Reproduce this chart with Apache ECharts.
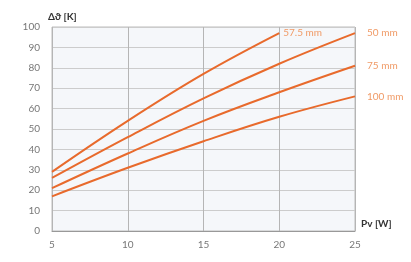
<!DOCTYPE html>
<html><head><meta charset="utf-8">
<script src="https://cdn.jsdelivr.net/npm/echarts@6/dist/echarts.min.js"></script>
<style>html,body{margin:0;padding:0;background:#fff}#c{width:411px;height:262px}</style>
</head><body><div id="c"></div>
<script>
const seriesNames = ["57.5 mm", "50 mm", "75 mm", "100 mm"];
const xValues = [5, 10, 15, 20, 25];
const s575 = [29, 54, 77, 97];
const s50 = [26, 46, 65, 82, 97];
const s75 = [21, 38, 54, 68, 81];
const s100 = [17, 31, 44, 56, 66];
const yTicks = [0, 10, 20, 30, 40, 50, 60, 70, 80, 90, 100];
const xTicks = [5, 10, 15, 20, 25];

const allData = [s575, s50, s75, s100];
const chart = echarts.init(document.getElementById('c'));
const font = 'Lato, "Open Sans", sans-serif';
chart.setOption({
  animation: false,
  backgroundColor: '#fff',
  grid: { left: 52, right: 56, top: 27, bottom: 31, show: true, backgroundColor: '#f5f7fa', borderColor: '#bdbdbd', borderWidth: 1 },
  xAxis: {
    type: 'value', min: xTicks[0], max: xTicks[xTicks.length - 1], interval: 5,
    name: 'Pv [W]', nameLocation: 'end', nameGap: 6,
    nameTextStyle: { color: '#333', fontSize: 10, fontFamily: font, fontWeight: 'bold', verticalAlign: 'bottom', padding: [0, 0, 2, 0] },
    axisLine: { lineStyle: { color: '#999', width: 1 } },
    axisTick: { show: false },
    axisLabel: { color: '#777', fontSize: 10, fontFamily: font, margin: 9 },
    splitLine: { show: true, lineStyle: { color: '#b5b5b5', width: 1 } }
  },
  yAxis: {
    type: 'value', min: yTicks[0], max: yTicks[yTicks.length - 1], interval: 10,
    name: 'Δϑ [K]', nameLocation: 'end', nameGap: 5,
    nameTextStyle: { color: '#333', fontSize: 10, fontFamily: font, fontWeight: 'bold', align: 'left', padding: [0, 0, 0, -4] },
    axisLine: { show: false },
    axisTick: { show: false },
    axisLabel: { color: '#777', fontSize: 10, fontFamily: font, margin: 12 },
    splitLine: { show: true, lineStyle: { color: '#cccccc', width: 1 } }
  },
  series: seriesNames.map((n, i) => ({
    name: n, type: 'line', symbol: 'none', smooth: 0.4,
    data: allData[i].map((v, j) => [xValues[j], v]),
    lineStyle: { color: '#e86a2c', width: 2 },
    endLabel: { show: true, formatter: n, color: '#f09a66', fontSize: 10, fontFamily: font, distance: i === 0 ? 4 : 12 }
  }))
});
</script></body></html>
